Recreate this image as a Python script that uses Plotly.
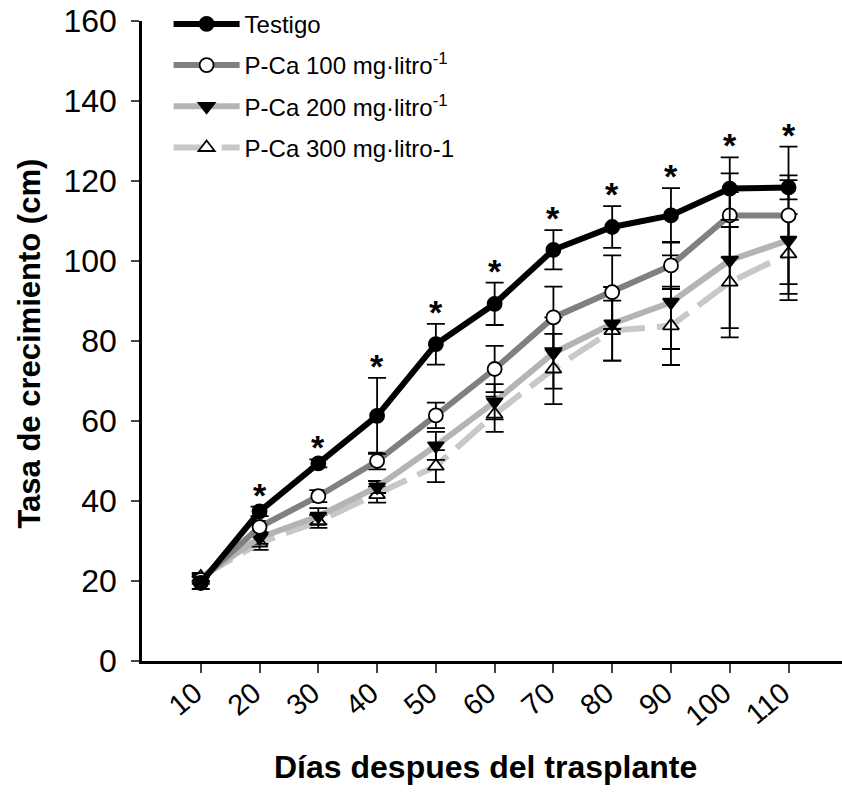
import plotly.graph_objects as go

dias = [10, 20, 30, 40, 50, 60, 70, 80, 90, 100, 110]

testigo = [19.5, 37.4, 49.4, 61.3, 79.2, 89.3, 102.8, 108.5, 111.4, 118.1, 118.4]
testigo_err = [1.5, 1.2, 1.0, 9.5, 5.1, 5.3, 4.9, 5.2, 6.8, 7.8, 3.0]

pca100 = [20.3, 33.5, 41.2, 50.0, 61.4, 73.0, 85.9, 92.2, 98.9, 111.4, 111.4]
pca100_err = [1.0, 1.5, 1.5, 2.1, 3.2, 5.8, 7.7, 9.2, 5.9, 10.5, 17.2]

pca200 = [20.8, 30.8, 36.2, 43.5, 53.8, 64.8, 77.0, 84.3, 89.7, 100.2, 105.2]
pca200_err = [1.0, 1.5, 2.0, 1.5, 3.5, 4.4, 8.9, 9.2, 11.7, 17.0, 15.0]

pca300 = [21.0, 29.5, 34.9, 41.6, 48.7, 61.7, 73.0, 82.6, 83.8, 94.7, 101.8]
pca300_err = [1.0, 1.7, 1.6, 2.0, 4.0, 4.4, 8.8, 7.5, 9.8, 13.8, 10.0]

# significance marks (days 20-110), placed over the highest error bar
sig_dias = [20, 30, 40, 50, 60, 70, 80, 90, 100, 110]

y_ticks = [0, 20, 40, 60, 80, 100, 120, 140, 160]

names = ["Testigo",
         "P-Ca 100 mg·litro<sup>-1</sup>",
         "P-Ca 200 mg·litro<sup>-1</sup>",
         "P-Ca 300 mg·litro-1"]

FONT = "Arial, Liberation Sans, sans-serif"

fig = go.Figure()

def add(y, err, name, lcolor, dash, symbol, mfill, rank, size):
    fig.add_trace(go.Scatter(
        x=dias, y=y, name=name, mode="lines+markers",
        legendgroup=name, legendrank=rank,
        line=dict(color=lcolor, width=6, dash=dash),
        marker=dict(symbol=symbol, size=size, color=mfill,
                    line=dict(color="black", width=1.8)),
        error_y=dict(type="data", array=err, visible=True,
                     color="black", thickness=1.8, width=9),
    ))

add(pca300, pca300_err, names[3], "#c8c8c8", "36px,12px", "triangle-up", "white", 4, 14)
add(pca200, pca200_err, names[2], "#b4b4b4", "solid", "triangle-down", "black", 3, 14)
add(pca100, pca100_err, names[1], "#808080", "solid", "circle", "white", 2, 14)
add(testigo, testigo_err, names[0], "black", "solid", "circle", "black", 1, 14)

series = [(testigo, testigo_err), (pca100, pca100_err),
          (pca200, pca200_err), (pca300, pca300_err)]
idx = {d: i for i, d in enumerate(dias)}
for d in sig_dias:
    i = idx[d]
    top = max(v[i] + e[i] for v, e in series)
    fig.add_annotation(x=d, y=top, text="<b>*</b>",
                       showarrow=False, yanchor="middle", yshift=12,
                       font=dict(family=FONT, size=34, color="black"))

fig.add_annotation(x=0.49, y=-0.166, xref="paper", yref="paper",
                   text="<b>Días despues del trasplante</b>", showarrow=False,
                   xanchor="center", yanchor="middle",
                   font=dict(family=FONT, size=32, color="black"))
fig.add_annotation(x=-0.16, y=0.496, xref="paper", yref="paper",
                   text="<b>Tasa de crecimiento (cm)</b>", showarrow=False,
                   textangle=-90, xanchor="center", yanchor="middle",
                   font=dict(family=FONT, size=31, color="black"))

fig.update_layout(
    width=842, height=792,
    margin=dict(l=142, r=0, t=21, b=131),
    paper_bgcolor="white", plot_bgcolor="white",
    font=dict(family=FONT, color="black"),
    showlegend=True,
    legend=dict(x=0.038, y=1.03, xanchor="left", yanchor="top",
                bgcolor="rgba(0,0,0,0)", itemwidth=66,
                tracegroupgap=7,
                font=dict(family=FONT, size=24, color="black")),
    xaxis=dict(range=[0, 119.1], tickvals=dias, ticktext=[str(d) for d in dias],
               tickangle=-40, ticks="outside", ticklen=9, tickwidth=2,
               showline=True, linewidth=2.5, linecolor="black",
               showgrid=False, zeroline=False, ticklabelstandoff=-8,
               ticklabelshift=-6,
               tickfont=dict(family=FONT, size=29, color="black")),
    yaxis=dict(range=[0, 160], tickvals=y_ticks, ticks="outside", ticklen=8,
               tickwidth=2, showline=True, linewidth=2.5, linecolor="black",
               showgrid=False, zeroline=False, ticklabelstandoff=8,
               tickfont=dict(family=FONT, size=32, color="black")),
)

fig.write_html("out.html", config={"displayModeBar": False},
               post_script="document.body.style.margin='0';")
